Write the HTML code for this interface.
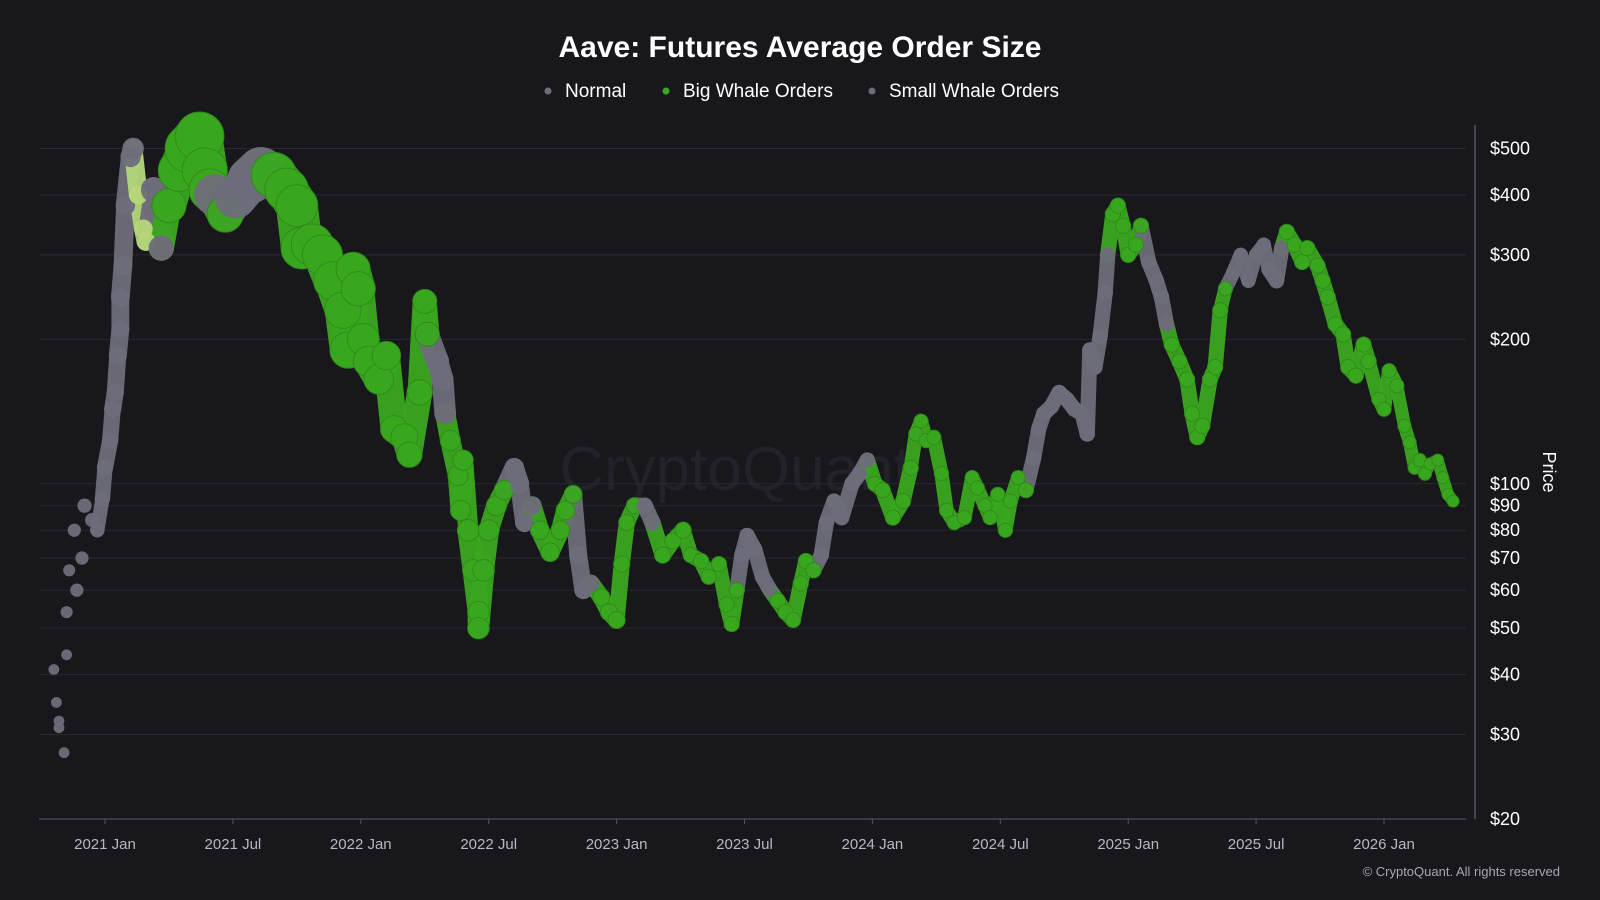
<!DOCTYPE html>
<html><head><meta charset="utf-8"><style>
html,body{margin:0;padding:0;background:#18171c;}
body{width:1600px;height:900px;overflow:hidden;position:relative;font-family:"Liberation Sans",sans-serif;}
svg{position:absolute;left:0;top:0;}
</style></head><body>
<svg id="chart" width="1600" height="900" viewBox="0 0 1600 900">
  <rect x="0" y="0" width="1600" height="900" fill="#18171c"/>
  <text x="800" y="57" text-anchor="middle" fill="#ffffff" font-size="30" font-weight="bold">Aave: Futures Average Order Size</text>
  <g font-size="19" fill="#ffffff">
    <g><circle cx="548" cy="91" r="3.5" fill="#6e6d7a"/><text x="565" y="97">Normal</text></g>
    <g><circle cx="666" cy="91" r="3.5" fill="#3aa81f"/><text x="683" y="97">Big Whale Orders</text></g>
    <g><circle cx="872" cy="91" r="3.5" fill="#6e6d7a"/><text x="889" y="97">Small Whale Orders</text></g>
  </g>
  <text x="735" y="490" text-anchor="middle" fill="#222228" font-size="62">CryptoQuant</text>
  <g id="grid"></g>
  <g id="marks"></g>
  <g id="axes"></g>
  <text x="0" y="0" transform="translate(1543,472) rotate(90)" text-anchor="middle" fill="#ffffff" font-size="18">Price</text>
  <text x="1560" y="876" text-anchor="end" fill="#a8a8b0" font-size="13">© CryptoQuant. All rights reserved</text>
</svg>
<script>
const dates=[2020.80,2020.81,2020.82,2020.84,2020.82,2020.85,2020.85,2020.86,2020.88,2020.89,2020.91,2020.92,2020.95,2020.97,2020.99,2021.00,2021.02,2021.03,2021.04,2021.05,2021.06,2021.06,2021.07,2021.08,2021.10,2021.11,2021.13,2021.15,2021.16,2021.19,2021.22,2021.25,2021.29,2021.33,2021.37,2021.39,2021.41,2021.43,2021.47,2021.51,2021.57,2021.61,2021.66,2021.71,2021.75,2021.77,2021.81,2021.85,2021.89,2021.93,2021.95,2021.97,2021.99,2022.01,2022.03,2022.07,2022.10,2022.13,2022.17,2022.19,2022.23,2022.25,2022.26,2022.30,2022.32,2022.33,2022.35,2022.38,2022.39,2022.40,2022.42,2022.44,2022.46,2022.46,2022.48,2022.50,2022.53,2022.56,2022.60,2022.62,2022.64,2022.67,2022.70,2022.74,2022.78,2022.80,2022.83,2022.85,2022.87,2022.90,2022.94,2022.97,2023.00,2023.02,2023.04,2023.07,2023.11,2023.14,2023.18,2023.22,2023.26,2023.29,2023.33,2023.36,2023.40,2023.43,2023.45,2023.47,2023.49,2023.51,2023.54,2023.57,2023.60,2023.63,2023.66,2023.69,2023.72,2023.74,2023.77,2023.80,2023.82,2023.85,2023.88,2023.92,2023.95,2023.98,2024.01,2024.04,2024.08,2024.12,2024.15,2024.17,2024.19,2024.21,2024.24,2024.27,2024.29,2024.32,2024.36,2024.39,2024.41,2024.44,2024.46,2024.49,2024.52,2024.54,2024.57,2024.60,2024.63,2024.65,2024.67,2024.70,2024.73,2024.76,2024.79,2024.82,2024.84,2024.85,2024.87,2024.89,2024.91,2024.92,2024.94,2024.96,2024.98,2025.00,2025.03,2025.05,2025.08,2025.11,2025.13,2025.15,2025.17,2025.20,2025.23,2025.25,2025.27,2025.29,2025.32,2025.34,2025.36,2025.38,2025.41,2025.44,2025.47,2025.50,2025.53,2025.55,2025.58,2025.60,2025.62,2025.65,2025.68,2025.70,2025.74,2025.76,2025.78,2025.81,2025.84,2025.86,2025.89,2025.92,2025.94,2025.98,2026.00,2026.02,2026.05,2026.08,2026.10,2026.12,2026.14,2026.16,2026.18,2026.21,2026.23,2026.25,2026.27];
const prices=[41,35,31,27.5,32,44,54,66,80,60,70,90,84,80,93,108,123,143,155,185,210,245,285,380,480,500,400,340,320,410,310,380,450,500,530,450,410,400,365,395,430,450,440,410,380,310,315,300,265,230,190,280,255,200,180,165,185,130,125,115,155,240,205,180,165,140,123,104,88,112,80,66,54,50,66,80,90,97,108,100,83,90,80,72,80,88,95,71,60,62,58,54,52,68,83,90,90,83,71,76,80,71,69,64,68,56,51,60,71,78,73,64,60,57,54,52,62,69,66,71,83,92,85,100,105,112,100,97,85,92,108,127,135,123,125,105,88,83,85,103,98,90,85,95,80,92,103,97,113,130,140,145,155,150,143,140,127,190,175,203,250,300,365,380,345,300,315,345,290,265,245,215,195,180,165,140,125,132,165,175,230,255,275,300,265,300,315,280,265,310,335,315,290,310,285,265,245,215,205,175,168,195,180,150,143,172,160,132,122,108,112,105,110,112,103,95,92];
const types="nnnnnnnnnnnnnnnnnnnnnnnnnnsssnnbbbbbbnbnnnbbbbbbbbbbbbbbbbbbbbbnnnbbbbbbbbbbbbnnnnbbbbbnnnbbbbbbnnbbbbbbbbbbnnnnnbbbbbbnnnnnnnbbbbbbbbbbbbbbbbbbbbbbnnnnnnnnnnnnnnbbbbbbnnnnbbbbbbbbbbnnnnnnnnbbbbbbbbbbbbbbbbbbbbbbbbbbbbbbbb".split("");
const orderSize=[4,4,4,4,4,4,5,5,6,6,6,7,7,7,8,9,9,10,10,11,11,12,12,13,14,16,12,12,12,22,22,40,60,81,81,70,60,60,45,60,75,75,70,65,60,60,60,55,50,45,45,40,40,35,32,30,28,25,25,22,22,20,20,18,16,16,14,14,14,14,16,16,16,16,16,15,14,13,13,13,12,12,12,12,12,12,11,11,11,10,10,10,10,9,9,9,9,9,9,9,9,8,8,8,8,8,8,8,8,8,8,8,8,8,8,8,8,8,8,8,8,8,8,8,8,8,8,8,8,8,8,7,7,7,7,7,7,7,7,7,7,7,7,7,7,7,7,8,8,8,8,8,8,8,8,8,8,8,8,8,8,8,8,8,8,8,8,8,8,8,8,8,8,8,8,8,8,8,8,8,8,7,7,7,7,7,7,8,8,8,8,8,8,8,8,8,8,8,8,8,8,8,8,7,7,7,7,6,6,6,6,6,5,5,5,5,5,5,5,5,5,5,5];
const yTicks=[20,30,40,50,60,70,80,90,100,200,300,400,500];
const xTickLabels=["2021 Jan","2021 Jul","2022 Jan","2022 Jul","2023 Jan","2023 Jul","2024 Jan","2024 Jul","2025 Jan","2025 Jul","2026 Jan"];
const xTickDates=[2021,2021.5,2022,2022.5,2023,2023.5,2024,2024.5,2025,2025.5,2026];

const NS="http://www.w3.org/2000/svg";
const X0=105,PXY=255.8,YB=819,YH=670.5,L=39,R=1466;
function xs(t){return X0+(t-2021)*PXY;}
function ys(p){return YB-Math.log(p/20)/Math.log(25)*YH;}
function rs(s){return Math.sqrt(s)*2.7;}
const colors={n:"#6e6d7a",b:"#3aa81f",s:"#b5d779"};
function mk(tag,attrs,parent){const e=document.createElementNS(NS,tag);for(const k in attrs)e.setAttribute(k,attrs[k]);parent.appendChild(e);return e;}

const grid=document.getElementById('grid');
yTicks.forEach((v,i)=>{
  if(v===20)return;
  const g=mk('line',{x1:L,x2:R,y1:ys(v),y2:ys(v),stroke:"#29292f","stroke-width":1},grid);
  
  
});
const axes=document.getElementById('axes');
const xa=mk('line',{x1:L,x2:R,y1:YB,y2:YB,stroke:"#44444c","stroke-width":1.5},axes);


const ya=mk('line',{x1:1475,x2:1475,y1:125,y2:YB,stroke:"#55555d","stroke-width":1.5},axes);


yTicks.forEach(v=>{
  const t=mk('text',{x:1490,y:ys(v)+6,fill:"#ffffff","font-size":18},axes);
  t.textContent='$'+v;
  
  
});
xTickDates.forEach((d,i)=>{
  const tk=mk('line',{x1:xs(d),x2:xs(d),y1:YB,y2:YB+5,stroke:"#55555d"},axes);
  
  
  const t=mk('text',{x:xs(d),y:849,fill:"#b8b8c0","font-size":15,"text-anchor":"middle"},axes);
  t.textContent=xTickLabels[i];
  
  
});
const marks=document.getElementById('marks');
for(let i=1;i<dates.length;i++){
  if(dates[i]<2020.99)continue;
  const w=2*Math.min(rs(orderSize[i]),rs(orderSize[i-1]));
  const ln=mk('line',{x1:xs(dates[i-1]),y1:ys(prices[i-1]),x2:xs(dates[i]),y2:ys(prices[i]),stroke:colors[types[i]],"stroke-width":w,"stroke-linecap":"round",opacity:0.95},marks);
  
  
}
for(let i=0;i<dates.length;i++){
  const c=mk('circle',{cx:xs(dates[i]),cy:ys(prices[i]),r:rs(orderSize[i]),fill:colors[types[i]],opacity:0.95,stroke:types[i]==='b'?"#2f8a19":"none","stroke-width":1},marks);
  
  
}
</script>
</body></html>
